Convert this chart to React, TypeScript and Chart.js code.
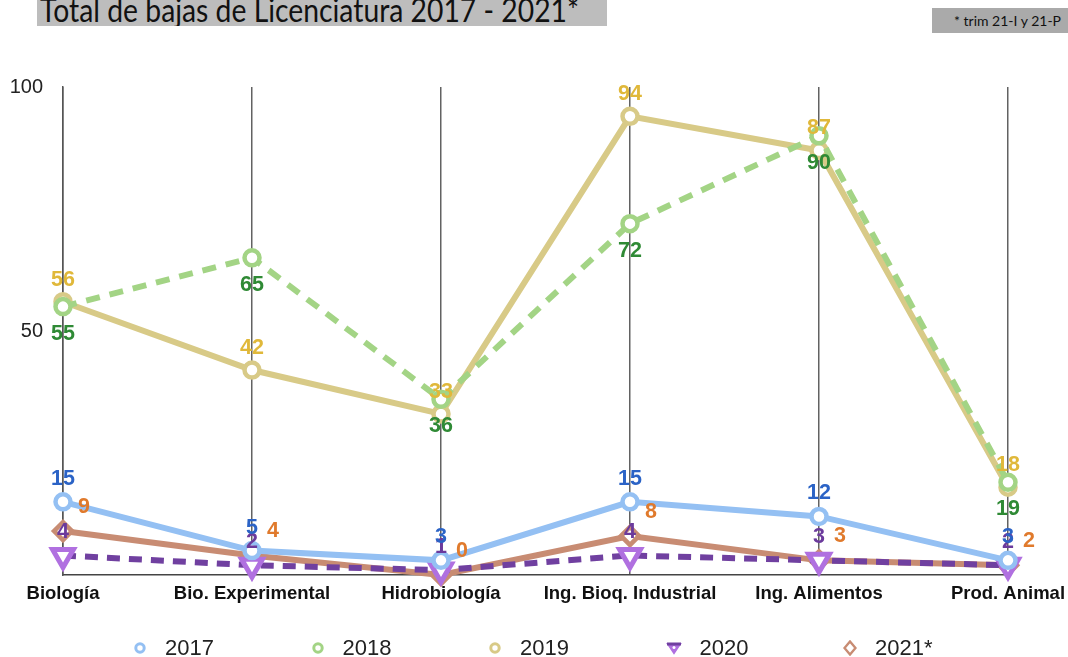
import React, { useEffect, useRef } from "react";
import { Chart, registerables } from "chart.js";

Chart.register(...registerables);

const categories = [
  "Biología",
  "Bio. Experimental",
  "Hidrobiología",
  "Ing. Bioq. Industrial",
  "Ing. Alimentos",
  "Prod. Animal",
];
const seriesNames = ["2017", "2018", "2019", "2020", "2021*"];
const v2017 = [15, 5, 3, 15, 12, 3];
const v2018 = [55, 65, 36, 72, 90, 19];
const v2019 = [56, 42, 33, 94, 87, 18];
const v2020 = [4, 2, 1, 4, 3, 2];
const v2021 = [9, 4, 0, 8, 3, 2];
const yTickValues = [50, 100];

const FONT = '"Liberation Sans", Arial, Helvetica, sans-serif';

const lineColors = ["#94c0f3", "#a3d485", "#d8ca87", "#7040a0", "#c88c73"];
const markerColors = ["#94c0f3", "#a3d485", "#d8ca87", "#b070e0", "#c88c73"];
const labelColors = ["#2b63c6", "#2f8a35", "#e0b83a", "#6b3a9c", "#e07a2c"];
const labelOffsets = [
  { dx: 0, dy: -23 },
  { dx: 0, dy: 27 },
  { dx: 0, dy: -22 },
  { dx: 0, dy: -23 },
  { dx: 21, dy: -24 },
];

const dataLabelPlugin = {
  id: "dataLabels",
  afterDatasetsDraw(chart: any) {
    const ctx = chart.ctx;
    ctx.save();
    ctx.font = `bold 21.5px ${FONT}`;
    ctx.textAlign = "center";
    ctx.textBaseline = "middle";
    const order = [4, 3, 2, 1, 0];
    order.forEach((i) => {
      const ds = chart.data.datasets[i];
      const meta = chart.getDatasetMeta(i);
      const off = labelOffsets[i];
      meta.data.forEach((pt: any, j: number) => {
        ctx.fillStyle = labelColors[i];
        ctx.fillText(String(ds.data[j]), pt.x + off.dx, pt.y + off.dy);
      });
    });
    ctx.restore();
  },
};

function LegendMarker({ idx }: { idx: number }) {
  const c = markerColors[idx];
  if (idx < 3) {
    return (
      <svg width="14" height="14" style={{ display: "block" }}>
        <circle cx="7" cy="7" r="4.2" fill="#fff" stroke={c} strokeWidth="3" />
      </svg>
    );
  }
  if (idx === 3) {
    return (
      <svg width="16" height="14" style={{ display: "block" }}>
        <polygon points="2,3 14,3 8,12" fill={c} stroke={c} strokeWidth="2" />
        <line x1="1" y1="3" x2="15" y2="3" stroke="#7040a0" strokeWidth="3" />
        <circle cx="8" cy="6.5" r="1.5" fill="#fff" />
      </svg>
    );
  }
  return (
    <svg width="14" height="16" style={{ display: "block" }}>
      <polygon points="7,1.5 12.5,8 7,14.5 1.5,8" fill="#fff" stroke={c} strokeWidth="2.4" />
    </svg>
  );
}

export default function App() {
  const canvasRef = useRef<HTMLCanvasElement | null>(null);

  useEffect(() => {
    if (!canvasRef.current) return;
    const allValues = [v2017, v2018, v2019, v2020, v2021];
    const chart = new Chart(canvasRef.current, {
      type: "line",
      data: {
        labels: categories,
        datasets: allValues.map((vals, i) => ({
          label: seriesNames[i],
          data: vals,
          borderColor: lineColors[i],
          borderWidth: 6,
          borderDash: i === 1 ? [14, 10] : i === 3 ? [13, 9] : [],
          pointStyle: i < 3 ? "circle" : i === 3 ? "triangle" : "rectRot",
          rotation: i === 3 ? 180 : 0,
          pointRadius: i < 3 ? 7.5 : i === 3 ? 12 : 9,
          pointBorderWidth: i === 3 ? 5 : 4.5,
          pointBackgroundColor: "#ffffff",
          pointBorderColor: markerColors[i],
          tension: 0,
          fill: false,
          clip: false as any,
        })),
      },
      options: {
        responsive: false,
        animation: false,
        events: [],
        layout: { padding: { left: 0, right: 60, top: 87, bottom: 0 } },
        plugins: {
          legend: { display: false },
          tooltip: { enabled: false },
          title: { display: false },
        },
        scales: {
          x: {
            offset: false,
            grid: { display: true, color: "#626262", lineWidth: 1.5, drawTicks: false },
            border: { display: true, color: "#444444", width: 1.5 },
            ticks: {
              color: "#111111",
              font: { family: FONT, size: 18.5, weight: "bold" },
              padding: 8,
              maxRotation: 0,
              autoSkip: false,
            },
            afterFit: (s: any) => {
              s.height = 82;
              s.paddingLeft = 0;
              s.paddingRight = 0;
            },
          },
          y: {
            min: 0,
            max: 100,
            grid: { display: false, drawTicks: false },
            border: { display: true, color: "#555555", width: 1.5 },
            afterBuildTicks: (s: any) => {
              s.ticks = yTickValues.map((v) => ({ value: v }));
            },
            ticks: {
              color: "#222222",
              font: { family: FONT, size: 20 },
              padding: 20,
            },
            afterFit: (s: any) => {
              s.width = 63;
              s.paddingTop = 0;
              s.paddingBottom = 0;
            },
          },
        },
      },
      plugins: [dataLabelPlugin],
    });
    return () => chart.destroy();
  }, []);

  return (
    <div
      style={{
        position: "absolute",
        left: 0,
        top: 0,
        width: 1068,
        height: 657,
        overflow: "hidden",
        background: "#ffffff",
        fontFamily: FONT,
      }}
    >
      <canvas ref={canvasRef} width={1068} height={657} style={{ position: "absolute", left: 0, top: 0 }} />
      <div
        style={{
          position: "absolute",
          left: 37,
          top: -8,
          width: 570,
          height: 34,
          background: "#bdbdbd",
          overflow: "hidden",
        }}
      >
        <span
          style={{
            position: "absolute",
            left: 3,
            top: 2,
            fontFamily: "Lato, sans-serif",
            fontSize: 32,
            lineHeight: "32px",
            color: "#111",
            whiteSpace: "nowrap",
            transform: "scaleX(0.885)",
            transformOrigin: "0 0",
          }}
        >
          Total de bajas de Licenciatura 2017 - 2021*
        </span>
      </div>
      <div
        style={{
          position: "absolute",
          left: 932,
          top: 8,
          width: 136,
          height: 25,
          background: "#aaaaaa",
          fontFamily: "Lato, sans-serif",
          fontSize: 14,
          lineHeight: "25px",
          color: "#111",
          whiteSpace: "nowrap",
          paddingLeft: 22,
          boxSizing: "border-box",
        }}
      >
        * trim 21-I y 21-P
      </div>
      {seriesNames.map((name, i) => (
        <div
          key={name}
          style={{
            position: "absolute",
            left: 133 + i * 177.5,
            top: 636,
            height: 24,
            display: "flex",
            alignItems: "center",
            gap: 18,
            fontSize: 22,
            color: "#222",
            whiteSpace: "nowrap",
          }}
        >
          <LegendMarker idx={i} />
          <span>{name}</span>
        </div>
      ))}
    </div>
  );
}
